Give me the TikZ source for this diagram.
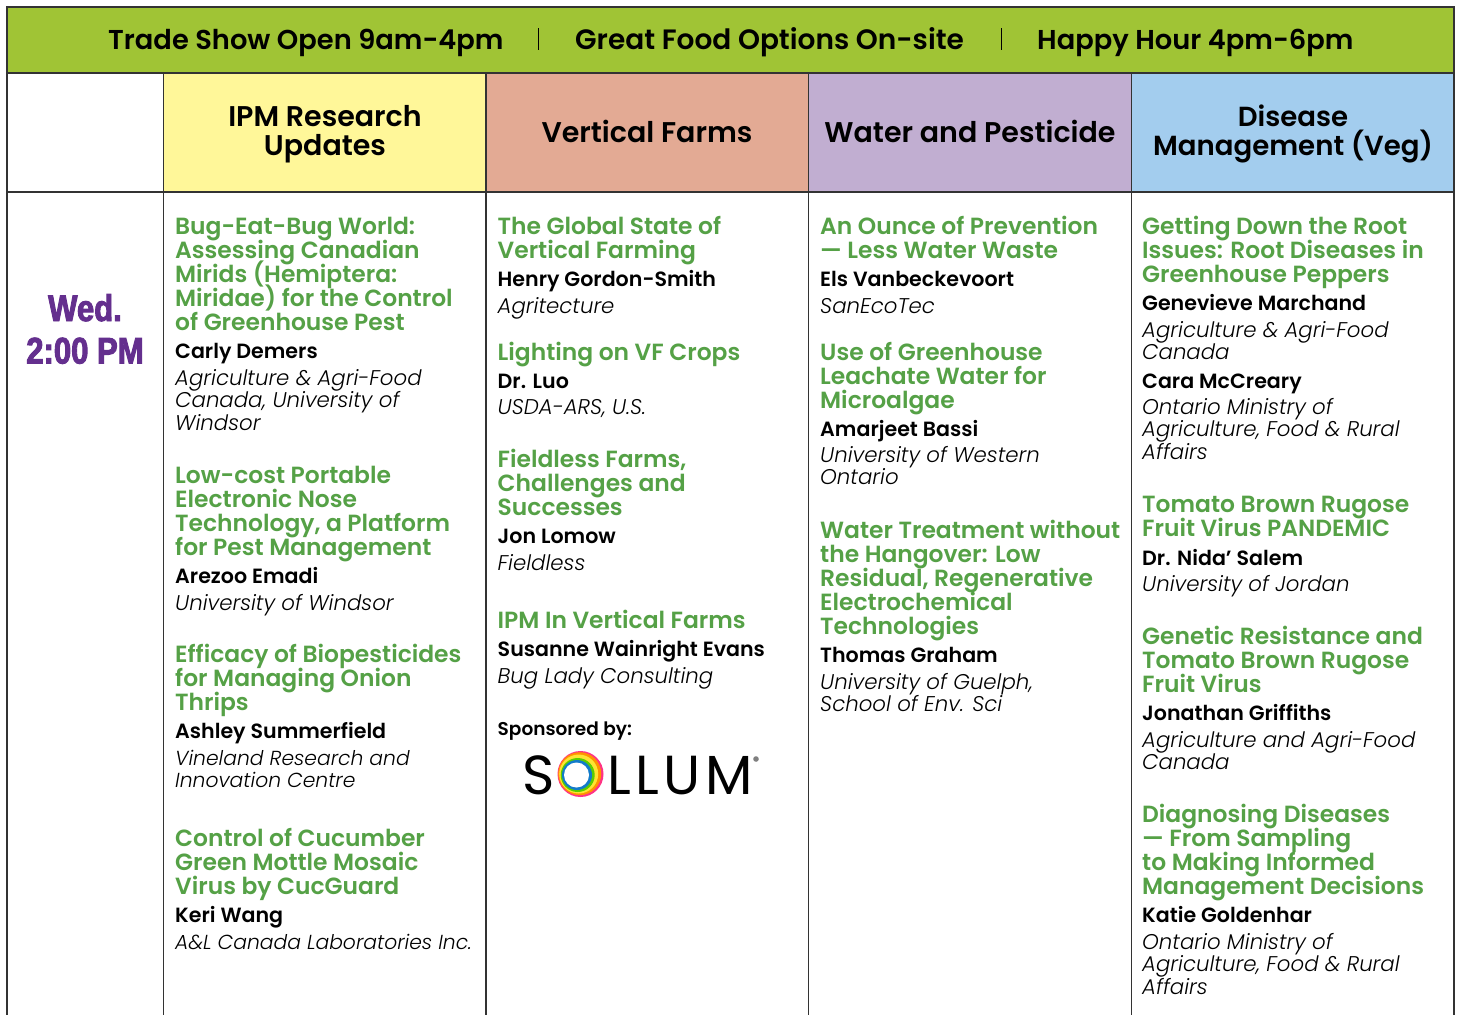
\documentclass[tikz,border=0pt]{standalone}
\usepackage{fontspec}
\setmainfont{Poppins}
\newfontfamily\hfont[UprightFont=* SemiBold]{Poppins}
\newfontfamily\affont[UprightFont=* Light Italic]{Poppins}
\newfontfamily\wedfont[FakeStretch=0.84,FakeBold=2.5]{Liberation Sans Bold}
\newfontfamily\logofont{Poppins}
\newfontfamily\logofontsp[LetterSpace=8]{Poppins}
\definecolor{band}{HTML}{A0C435}
\definecolor{cyel}{HTML}{FFF799}
\definecolor{csal}{HTML}{E3AA94}
\definecolor{cpur}{HTML}{C1AED1}
\definecolor{cblu}{HTML}{A3CDEE}
\definecolor{ttlgreen}{HTML}{55A146}
\definecolor{wedpurple}{HTML}{642F8E}
\definecolor{gridc}{HTML}{333333}
\tikzset{
 x=1pt,y=-1pt,
 grid/.style={draw=gridc,line width=1.3pt},
 blk/.style={anchor=north west,inner sep=0pt,align=left},
 ttlstyle/.style={blk,text=ttlgreen,font=\hfont\fontsize{23.4}{24}\selectfont},
 whostyle/.style={blk,text=black,font=\hfont\fontsize{20.6}{23}\selectfont},
 orgstyle/.style={blk,text=black,font=\affont\fontsize{21.3}{22.6}\selectfont},
 orgnarrow/.style={blk,text=black,font=\affont\fontsize{20.3}{22.6}\selectfont},
 head/.style={inner sep=0pt,align=center,anchor=north,text=black,font=\hfont\fontsize{28.5}{29}\selectfont},
 headn/.style={inner sep=0pt,align=center,anchor=north,text=black,font=\hfont\fontsize{27.6}{29}\selectfont},
 bandtxt/.style={inner sep=0pt,anchor=base west,text=black,font=\hfont\fontsize{27.3}{29}\selectfont},
 bandwide/.style={inner sep=0pt,anchor=base west,text=black,font=\hfont\fontsize{28}{29}\selectfont},
 wedtxt/.style={inner sep=0pt,anchor=base,text=wedpurple,font=\wedfont\fontsize{37}{38}\selectfont},
 logotxt/.style={inner sep=0pt,anchor=base west,text=black},
}
\newcommand{\ttl}[4]{\node[ttlstyle] (#1) at (#2,#3-18) {\rule{0pt}{18pt}#4};}
\newcommand{\who}[4]{\node[whostyle] (#1) at (#2,#3-16) {\rule{0pt}{16pt}#4};}
\newcommand{\org}[4]{\node[orgstyle] (#1) at (#2,#3-17) {\rule{0pt}{17pt}#4};}
\newcommand{\orgn}[4]{\node[orgnarrow] (#1) at (#2,#3-17) {\rule{0pt}{17pt}#4};}
\begin{document}
\begin{tikzpicture}
\lineskiplimit=-100pt
\useasboundingbox (0,0) rectangle (1457,1015);
\fill[white] (0,0) rectangle (1457,1015);
% bands
\fill[band] (7,7) rectangle (1454,73);
\fill[cyel] (163.5,73) rectangle (486,192);
\fill[csal] (486,73) rectangle (808.5,192);
\fill[cpur] (808.5,73) rectangle (1131.5,192);
\fill[cblu] (1131.5,73) rectangle (1454,192);
% grid
\draw[grid] (7,1015) -- (7,7) -- (1454,7) -- (1454,1015);
\draw[grid] (7,73) -- (1454,73);
\draw[grid] (7,192) -- (1454,192);
\foreach \cx in {163.5,486,808.5,1131.5} \draw[grid] (\cx,73) -- (\cx,1015);
% top band
\node[bandtxt] (b1) at (108,49) {Trade Show Open 9am-4pm};
\node[bandwide] (b2) at (575,49) {Great Food Options On-site};
\node[bandtxt] (b3) at (1037,49) {Happy Hour 4pm-6pm};
\draw[black,line width=1pt] (538,28) -- (538,50);
\draw[black,line width=1pt] (1001,28) -- (1001,50);
% headers
\node[head] (h1) at (325,126-21) {\rule{0pt}{21pt}IPM Research\\Updates};
\node[head] (h2) at (647,141-21) {\rule{0pt}{21pt}Vertical Farms};
\node[head] (h3) at (970,141-21) {\rule{0pt}{21pt}Water and Pesticide};
\node[headn] (h4) at (1293,126-21) {\rule{0pt}{21pt}Disease\\Management (Veg)};
% time
\node[wedtxt] (wed) at (85,321) {Wed.};
\node[wedtxt] (tm) at (85,363.5) {2:00 PM};
% column 1
\def\cx{175}
\ttl{a1}{\cx}{234}{Bug-Eat-Bug World:\\Assessing Canadian\\Mirids (Hemiptera:\\Miridae) for the Control\\of Greenhouse Pest}
\who{a2}{\cx}{358}{Carly Demers}
\org{a3}{\cx}{385}{Agriculture \& Agri-Food\\Canada, University of\\Windsor}
\ttl{a4}{\cx}{483}{Low-cost Portable\\Electronic Nose\\Technology, a Platform\\for Pest Management}
\who{a5}{\cx}{583}{Arezoo Emadi}
\org{a6}{\cx}{610}{University of Windsor}
\ttl{a7}{\cx}{662}{Efficacy of Biopesticides\\for Managing Onion\\Thrips}
\who{a8}{\cx}{738}{Ashley Summerfield}
\orgn{a9}{\cx}{765}{Vineland Research and\\Innovation Centre}
\ttl{a10}{\cx}{846}{Control of Cucumber\\Green Mottle Mosaic\\Virus by CucGuard}
\who{a11}{\cx}{922}{Keri Wang}
\orgn{a12}{\cx}{949}{A\&L Canada Laboratories Inc.}
% column 2
\def\cx{497.5}
\ttl{c1}{\cx}{234}{The Global State of\\Vertical Farming}
\who{c2}{\cx}{286}{Henry Gordon-Smith}
\org{c3}{\cx}{313}{Agritecture}
\ttl{c4}{\cx}{360}{Lighting on VF Crops}
\who{c5}{\cx}{388}{Dr. Luo}
\org{c6}{\cx}{414}{USDA-ARS, U.S.}
\ttl{c7}{\cx}{467}{Fieldless Farms,\\Challenges and\\Successes}
\who{c8}{\cx}{543}{Jon Lomow}
\org{c9}{\cx}{570}{Fieldless}
\ttl{c10}{\cx}{628}{IPM In Vertical Farms}
\who{c11}{\cx}{656}{Susanne Wainright Evans}
\org{c12}{\cx}{683}{Bug Lady Consulting}
\node[inner sep=0pt,anchor=base west,text=black,font=\hfont\fontsize{18.5}{20}\selectfont] (spons) at (497.5,735) {Sponsored by:};
% logo
\node[logotxt,font=\logofont\fontsize{55}{55}\selectfont] (logoS) at (522,794) {S};
\node[logotxt,font=\logofontsp\fontsize{55}{55}\selectfont] (logoL) at (607,794) {LLUM};
\fill[black!50] (756,759) circle (2.8);
\fill[red!60!magenta!80!white] (580.5,774) circle (23);
\fill[orange!85!yellow] (579.7,773.7) circle (21.5);
\fill[yellow!80!orange!80!white] (578.7,774) circle (19.5);
\fill[green!55!yellow!80!black] (577.7,775) circle (17);
\fill[cyan!60!blue] (577,775) circle (15);
\fill[white] (576.5,775) circle (12.5);
% column 3
\def\cx{820}
\ttl{d1}{\cx}{234}{An Ounce of Prevention\\— Less Water Waste}
\who{d2}{\cx}{286}{Els Vanbeckevoort}
\org{d3}{\cx}{313}{SanEcoTec}
\ttl{d4}{\cx}{360}{Use of Greenhouse\\Leachate Water for\\Microalgae}
\who{d5}{\cx}{436}{Amarjeet Bassi}
\org{d6}{\cx}{462}{University of Western\\Ontario}
\ttl{d7}{\cx}{538}{Water Treatment without\\the Hangover: Low\\Residual, Regenerative\\Electrochemical\\Technologies}
\who{d8}{\cx}{662}{Thomas Graham}
\org{d9}{\cx}{689}{University of Guelph,\\School of Env. Sci}
% column 4
\def\cx{1142}
\ttl{e1}{\cx}{234}{Getting Down the Root\\Issues: Root Diseases in\\Greenhouse Peppers}
\who{e2}{\cx}{310}{Genevieve Marchand}
\org{e3}{\cx}{337}{Agriculture \& Agri-Food\\Canada}
\who{e4}{\cx}{388}{Cara McCreary}
\org{e5}{\cx}{414}{Ontario Ministry of\\Agriculture, Food \& Rural\\Affairs}
\ttl{e6}{\cx}{512}{Tomato Brown Rugose\\Fruit Virus PANDEMIC}
\who{e7}{\cx}{565}{Dr. Nida’ Salem}
\org{e8}{\cx}{591}{University of Jordan}
\ttl{e9}{\cx}{644}{Genetic Resistance and\\Tomato Brown Rugose\\Fruit Virus}
\who{e10}{\cx}{720}{Jonathan Griffiths}
\org{e11}{\cx}{747}{Agriculture and Agri-Food\\Canada}
\ttl{e12}{\cx}{822}{Diagnosing Diseases\\— From Sampling\\to Making Informed\\Management Decisions}
\who{e13}{\cx}{922}{Katie Goldenhar}
\org{e14}{\cx}{949}{Ontario Ministry of\\Agriculture, Food \& Rural\\Affairs}
\end{tikzpicture}
\end{document}
